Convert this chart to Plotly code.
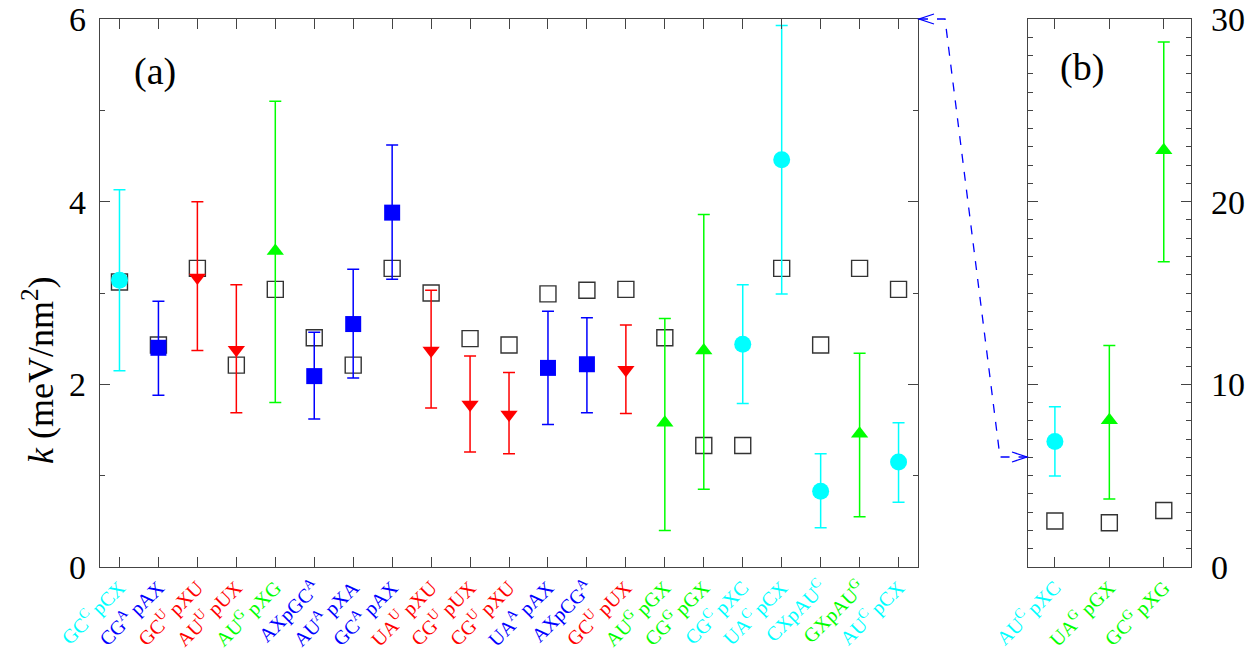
import plotly.graph_objects as go

# ---------------- data ----------------
labels_a = ["GC<sup>C</sup> pCX", "CG<sup>A</sup> pAX", "GC<sup>U</sup> pXU", "AU<sup>U</sup> pUX",
            "AU<sup>G</sup> pXG", "AXpGC<sup>A</sup>", "AU<sup>A</sup> pXA", "GC<sup>A</sup> pAX",
            "UA<sup>U</sup> pXU", "CG<sup>U</sup> pUX", "CG<sup>U</sup> pXU", "UA<sup>A</sup> pAX",
            "AXpCG<sup>A</sup>", "GC<sup>U</sup> pUX", "AU<sup>G</sup> pGX", "CG<sup>G</sup> pGX",
            "CG<sup>C</sup> pXC", "UA<sup>C</sup> pCX", "CXpAU<sup>C</sup>", "GXpAU<sup>G</sup>",
            "AU<sup>C</sup> pCX"]
groups_a = ["C", "A", "U", "U", "G", "A", "A", "A", "U", "U", "U", "A", "A", "U", "G", "G",
            "C", "C", "C", "G", "C"]
k_a = [3.14, 2.40, 3.17, 2.38, 3.46, 2.09, 2.66, 3.88, 2.37, 1.78, 1.67, 2.18, 2.22, 2.16,
       1.58, 2.37, 2.44, 4.46, 0.83, 1.46, 1.15]
err_hi_a = [4.13, 2.91, 4.00, 3.09, 5.10, 2.57, 3.26, 4.62, 3.03, 2.31, 2.13, 2.80, 2.73, 2.65,
            2.72, 3.86, 3.09, 5.93, 1.24, 2.34, 1.58]
err_lo_a = [2.15, 1.88, 2.37, 1.69, 1.80, 1.62, 2.07, 3.15, 1.74, 1.26, 1.24, 1.56, 1.69, 1.68,
            0.40, 0.85, 1.79, 2.99, 0.43, 0.55, 0.71]
ref_a = [3.12, 2.43, 3.27, 2.21, 3.04, 2.51, 2.21, 3.27, 3.00, 2.50, 2.43, 2.99, 3.03, 3.04,
         2.51, 1.33, 1.33, 3.27, 2.43, 3.27, 3.04]

labels_b = ["AU<sup>C</sup> pXC", "UA<sup>G</sup> pGX", "GC<sup>G</sup> pXG"]
groups_b = ["C", "G", "G"]
k_b = [6.87, 8.03, 22.81]
err_hi_b = [8.77, 12.13, 28.74]
err_lo_b = [4.98, 3.72, 16.71]
ref_b = [2.52, 2.42, 3.09]

yticks_a = [0, 2, 4, 6]
yticks_b = [0, 10, 20, 30]

# ---------------- style ----------------
COLORS = {"C": "#00ffff", "A": "#0000ff", "U": "#ff0000", "G": "#00ff00"}
SYMBOLS = {"C": "circle", "A": "square", "U": "triangle-down", "G": "triangle-up"}
SIZES = {"C": 17, "A": 16, "U": 15, "G": 15}
FONT = "Liberation Serif"
AX = "#444444"

fig = go.Figure()


def add_panel(labels, groups, k, hi, lo, ref, xa, ya):
    xs = list(range(len(labels)))
    fig.add_trace(go.Scatter(
        x=xs, y=ref, mode="markers", xaxis=xa, yaxis=ya, showlegend=False,
        marker=dict(symbol="square-open", size=16, color="#333333", line=dict(width=1.4)),
    ))
    for g in ["C", "A", "U", "G"]:
        idx = [i for i, gg in enumerate(groups) if gg == g]
        if not idx:
            continue
        fig.add_trace(go.Scatter(
            x=[xs[i] for i in idx], y=[k[i] for i in idx], mode="markers",
            xaxis=xa, yaxis=ya, showlegend=False,
            marker=dict(symbol=SYMBOLS[g], size=SIZES[g], color=COLORS[g], line=dict(width=0)),
            error_y=dict(type="data", symmetric=False,
                         array=[hi[i] - k[i] for i in idx],
                         arrayminus=[k[i] - lo[i] for i in idx],
                         color=COLORS[g], thickness=1.5, width=6),
        ))


add_panel(labels_a, groups_a, k_a, err_hi_a, err_lo_a, ref_a, "x", "y")
add_panel(labels_b, groups_b, k_b, err_hi_b, err_lo_b, ref_b, "x2", "y2")


def ticktext(labels, groups):
    return ['<span style="color:%s">%s</span>' % (COLORS[g], l) for l, g in zip(labels, groups)]


common_x = dict(showline=True, linecolor=AX, linewidth=1.2, mirror="ticks", ticks="inside",
                ticklen=10, tickcolor=AX, tickwidth=1, tickangle=-45, showgrid=False, zeroline=False,
                automargin=False, tickfont=dict(family=FONT, size=20))
common_y = dict(ticks="inside", ticklen=10, tickcolor=AX, showline=True, linecolor=AX,
                linewidth=1.2, mirror="ticks", showgrid=False, zeroline=False, automargin=False,
                tickfont=dict(family=FONT, size=34, color="black"), ticklabelstandoff=6,
                minor=dict(dtick=1, ticks="inside", ticklen=5, tickcolor=AX, showgrid=False))

fig.update_layout(
    width=1256, height=658,
    margin=dict(l=100, r=65, t=19, b=91),
    plot_bgcolor="white", paper_bgcolor="white",
    font=dict(family=FONT, color="black"),
    xaxis=dict(domain=[0, 0.7498], range=[-0.5, 20.5], tickmode="array",
               tickvals=list(range(len(labels_a))), ticktext=ticktext(labels_a, groups_a),
               anchor="y", **common_x),
    xaxis2=dict(domain=[0.8503, 1], range=[-0.5, 2.5], tickmode="array",
                tickvals=list(range(len(labels_b))), ticktext=ticktext(labels_b, groups_b),
                anchor="y2", **common_x),
    yaxis=dict(range=[0, 6], tickmode="array", tickvals=yticks_a, anchor="x", **common_y),
    yaxis2=dict(range=[0, 30], tickmode="array", tickvals=yticks_b, anchor="x2", side="right",
                **common_y),
)
fig.update_layout(yaxis2_ticklabelstandoff=12)


def px(xp):
    return (xp - 100) / 1091.0


def py(yp):
    return (567 - yp) / 548.0


# panel labels and axis title
for txt, xx, yy in [("(a)", 155, 72), ("(b)", 1082, 68)]:
    fig.add_annotation(xref="paper", yref="paper", x=px(xx), y=py(yy), text=txt, showarrow=False,
                       xanchor="center", yanchor="middle",
                       font=dict(family=FONT, size=38, color="black"))
fig.add_annotation(xref="paper", yref="paper", x=px(38), y=py(370), text="<i>k</i> (meV/nm<sup>2</sup>)",
                   showarrow=False, textangle=-90, xanchor="center", yanchor="middle",
                   font=dict(family=FONT, size=36, color="black"))

# dashed connector arrow between panels
path = "M %f %f L %f %f L %f %f L %f %f" % (px(919), py(19), px(945), py(19), px(1000), py(457),
                                             px(1027), py(457))
fig.add_shape(type="path", xref="paper", yref="paper", path=path,
              line=dict(color="#0000ff", width=1.3, dash="dash"))
head1 = "M %f %f L %f %f L %f %f" % (px(934), py(14), px(919), py(19), px(934), py(24))
head2 = "M %f %f L %f %f L %f %f" % (px(1012), py(452), px(1027), py(457), px(1012), py(462))
for h in (head1, head2):
    fig.add_shape(type="path", xref="paper", yref="paper", path=h,
                  line=dict(color="#0000ff", width=1.3))

fig.write_html("out.html")
